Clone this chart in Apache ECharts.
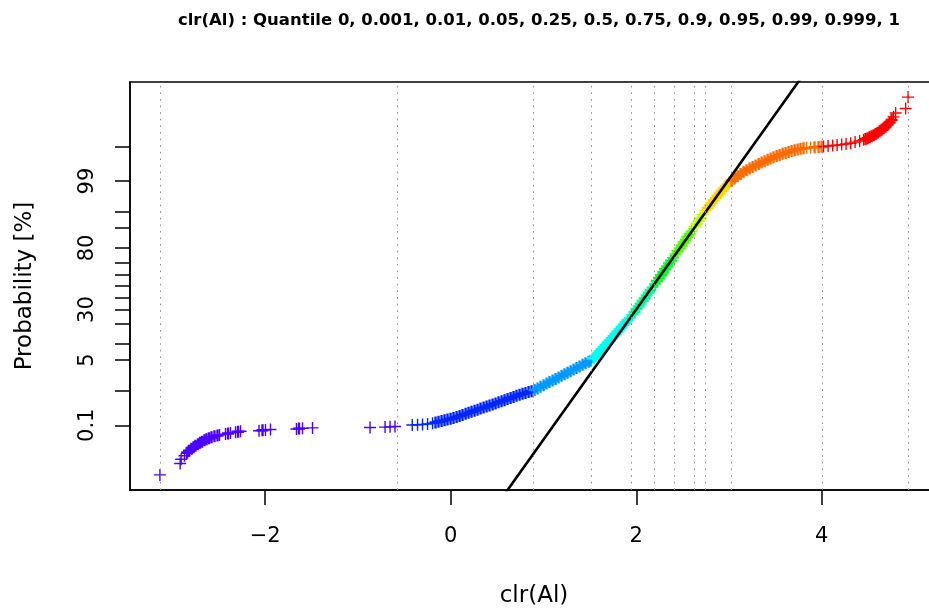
<!DOCTYPE html>
<html><head><meta charset="utf-8">
<script src="https://cdn.jsdelivr.net/npm/echarts@6/dist/echarts.min.js"></script>
<style>html,body{margin:0;padding:0;background:#fff}#chart{width:929px;height:613px}</style>
</head><body><div id="chart"></div>
<script>
// sample values clr(Al), sorted
const clrAl = [
-3.135,-2.917,-2.906,-2.870,-2.843,-2.822,-2.795,-2.773,-2.752,-2.725,-2.703,-2.681,-2.655,-2.633,-2.606,-2.579,-2.547,-2.514,-2.493,-2.428,-2.401,-2.374,-2.320,-2.293,-2.266,-2.067,-2.029,-1.997,-1.943,-1.663,-1.636,-1.598,-1.490,-0.870,-0.708,-0.654,-0.601,
-0.415,-0.358,-0.304,-0.250,
-0.196,-0.164,-0.132,-0.099,-0.067,-0.035,-0.002,0.030,0.063,0.095,0.127,0.160,0.192,0.224,0.257,0.289,0.321,0.354,0.386,0.418,0.451,0.483,0.515,0.548,0.580,0.612,0.645,0.677,0.709,0.742,0.774,0.806,0.839,0.871,
0.904,0.936,0.968,1.001,1.033,1.065,1.098,1.130,1.162,1.195,1.227,1.259,1.292,1.324,1.356,1.389,1.421,1.453,1.486,1.507,
1.540,1.561,1.583,1.604,1.626,1.647,1.669,1.691,1.712,1.734,1.755,1.777,1.798,1.820,1.842,1.863,1.885,1.906,1.928,
1.960,1.982,2.003,2.025,2.046,2.068,2.090,2.111,2.133,2.154,2.176,
2.203,2.224,2.246,2.267,2.289,2.311,2.332,2.354,2.375,2.397,
2.424,2.445,2.467,2.488,2.510,2.532,2.553,2.575,2.596,
2.629,2.650,2.672,2.693,2.715,
2.747,2.769,2.790,2.812,2.834,2.855,2.877,2.898,2.920,2.941,2.963,2.985,3.006,
3.028,3.060,3.092,3.125,3.157,3.189,3.222,3.254,3.286,3.319,3.351,3.383,3.416,3.448,3.480,3.513,3.545,3.577,3.610,3.642,3.674,3.707,3.739,3.771,3.803,3.836,3.879,3.922,3.965,3.998,
4.019,4.068,4.117,4.165,4.214,4.262,4.311,4.359,4.408,4.451,4.472,4.494,4.515,4.537,4.559,4.580,4.602,4.623,4.645,4.666,4.688,4.710,4.731,4.753,4.774,4.796,4.904,4.930
];
// normal scores (probit of the plotting position) of each sorted value
const normalScore = [
-4.191,-3.939,-3.844,-3.766,-3.700,-3.656,-3.611,-3.578,-3.545,-3.512,-3.479,-3.457,-3.423,-3.401,-3.379,-3.357,-3.335,-3.319,-3.304,-3.286,-3.273,-3.260,-3.246,-3.235,-3.224,-3.211,-3.202,-3.193,-3.184,-3.173,-3.164,-3.158,-3.149,-3.140,-3.131,-3.125,-3.118,
-3.085,-3.080,-3.074,-3.063,
-3.043,-3.027,-3.012,-2.996,-2.981,-2.965,-2.948,-2.928,-2.906,-2.883,-2.861,-2.837,-2.815,-2.790,-2.766,-2.744,-2.720,-2.698,-2.673,-2.651,-2.627,-2.605,-2.580,-2.556,-2.534,-2.509,-2.485,-2.461,-2.436,-2.414,-2.392,-2.372,-2.352,-2.335,
-2.306,-2.273,-2.237,-2.202,-2.166,-2.133,-2.098,-2.065,-2.029,-1.994,-1.961,-1.925,-1.890,-1.854,-1.821,-1.786,-1.750,-1.717,-1.682,-1.660,
-1.604,-1.556,-1.507,-1.458,-1.410,-1.361,-1.312,-1.264,-1.215,-1.166,-1.115,-1.064,-1.014,-0.963,-0.912,-0.861,-0.810,-0.759,-0.710,
-0.635,-0.575,-0.513,-0.454,-0.392,-0.332,-0.272,-0.210,-0.148,-0.089,-0.029,
0.046,0.111,0.175,0.239,0.303,0.370,0.434,0.498,0.562,0.626,
0.708,0.770,0.834,0.898,0.963,1.025,1.091,1.153,1.217,
1.312,1.379,1.445,1.511,1.578,
1.677,1.733,1.788,1.843,1.899,1.954,1.998,2.054,2.109,2.153,2.208,2.253,2.304,
2.335,2.386,2.436,2.485,2.529,2.569,2.605,2.640,2.673,2.706,2.737,2.768,2.797,2.826,2.855,2.881,2.906,2.930,2.952,2.974,2.994,3.012,3.027,3.041,3.052,3.063,3.072,3.078,3.083,3.087,
3.094,3.102,3.114,3.125,3.136,3.149,3.167,3.191,3.215,3.242,3.260,3.277,3.297,3.319,3.344,3.370,3.399,3.430,3.463,3.499,3.536,3.578,3.627,3.684,3.751,3.835,3.935,4.189
];
const quantileProbs = [0, 0.001, 0.01, 0.05, 0.25, 0.5, 0.75, 0.9, 0.95, 0.99, 0.999, 1];
const quantileX = [-3.135, -0.581, 0.885, 1.521, 1.946, 2.187, 2.413, 2.618, 2.736, 3.016, 4.009, 4.930];
const bandColors = ['#4D00FF','#0026FF','#0099FF','#00FFF0','#00FF99','#00FF26','#4DFF00','#BFFF00','#FFD600','#FF6B00','#FF0000'];
const probTicksPct = [0.1, 1, 5, 10, 20, 30, 40, 50, 60, 70, 80, 90, 95, 99, 99.9];
const probLabelsPct = [0.1, 5, 30, 80, 99];
const xTicks = [-2, 0, 2, 4];
const titleText = 'clr(Al) : Quantile ' + quantileProbs.join(', ');

function qnorm(p){
  const a=[-3.969683028665376e+01,2.209460984245205e+02,-2.759285104469687e+02,1.383577518672690e+02,-3.066479806614716e+01,2.506628277459239e+00];
  const b=[-5.447609879822406e+01,1.615858368580409e+02,-1.556989798598866e+02,6.680131188771972e+01,-1.328068155288572e+01];
  const c=[-7.784894002430293e-03,-3.223964580411365e-01,-2.400758277161838e+00,-2.549732539343734e+00,4.374664141464968e+00,2.938163982698783e+00];
  const d=[7.784695709041462e-03,3.224671290700398e-01,2.445134137142996e+00,3.754408661907416e+00];
  const pl=0.02425, ph=1-pl; let q, r;
  if (p < pl) { q=Math.sqrt(-2*Math.log(p)); return (((((c[0]*q+c[1])*q+c[2])*q+c[3])*q+c[4])*q+c[5])/((((d[0]*q+d[1])*q+d[2])*q+d[3])*q+1); }
  if (p <= ph) { q=p-0.5; r=q*q; return (((((a[0]*r+a[1])*r+a[2])*r+a[3])*r+a[4])*r+a[5])*q/(((((b[0]*r+b[1])*r+b[2])*r+b[3])*r+b[4])*r+1); }
  q=Math.sqrt(-2*Math.log(1-p)); return -(((((c[0]*q+c[1])*q+c[2])*q+c[3])*q+c[4])*q+c[5])/((((d[0]*q+d[1])*q+d[2])*q+d[3])*q+1);
}

// R-style 4% axis extension
const xLo = Math.min(...clrAl), xHi = Math.max(...clrAl);
const zLo = Math.min(...normalScore), zHi = Math.max(...normalScore);
const xMin = xLo - 0.04*(xHi-xLo), xMax = xHi + 0.04*(xHi-xLo);
const zMin = zLo - 0.04*(zHi-zLo), zMax = zHi + 0.04*(zHi-zLo);

const yTickVals = probTicksPct.map(p => qnorm(p/100));
const yLabelVals = probLabelsPct.map(p => qnorm(p/100));

function bandOf(x){ let k = 0; while (k < bandColors.length - 1 && x >= quantileX[k+1]) k++; return k; }

// reference line through the quartiles
const q1x = quantileX[quantileProbs.indexOf(0.25)], q3x = quantileX[quantileProbs.indexOf(0.75)];
const slope = (qnorm(0.75) - qnorm(0.25)) / (q3x - q1x);
const xMid = (q1x + q3x)/2;
const refLine = [[xMid + (zMin-0.2)/slope, zMin-0.2], [xMid + (zMax+0.2)/slope, zMax+0.2]];

const FONT = 'DejaVu Sans';
const plusThin  = 'path://M5.3,0H6.7V5.3H12V6.7H6.7V12H5.3V6.7H0V5.3H5.3Z';
const plusThick = 'path://M4.8,0H7.2V4.8H12V7.2H7.2V12H4.8V7.2H0V4.8H4.8Z';

function buildSeries(symbolFor){
  const bands = bandColors.map(() => []);
  clrAl.forEach((x, i) => bands[bandOf(x)].push({value: [x, normalScore[i]], symbol: symbolFor(i)}));
  const s = bands.map((pts, k) => ({
    type: 'scatter', data: pts, symbolSize: 12, z: 2,
    itemStyle: {color: bandColors[k], opacity: 1}, silent: true
  }));
  s.push({
    type: 'line', data: [], z: 3, silent: true,
    markLine: {
      silent: true, symbol: ['none','none'], label: {show: false}, animation: false,
      lineStyle: {type: [1.6, 5], color: '#8c8c8c', width: 1},
      emphasis: {disabled: true},
      data: quantileX.map(v => ({xAxis: v}))
    }
  });
  s.push({
    type: 'line', data: refLine, z: 4, symbol: 'none', silent: true, clip: true,
    lineStyle: {color: '#000', width: 2.6}
  });
  return s;
}

const chart = echarts.init(document.getElementById('chart'), null, {renderer: 'canvas'});
chart.setOption({
  animation: false,
  backgroundColor: '#fff',
  title: {
    text: titleText, left: 539, top: 12, textAlign: 'center', padding: 0,
    textStyle: {fontFamily: FONT, fontWeight: 'bold', fontSize: 16.5, color: '#000'}
  },
  grid: {left: 130, top: 82, width: 808, height: 408, show: true, borderColor: '#000', borderWidth: 1.5,
         backgroundColor: 'transparent', containLabel: false, outerBoundsMode: 'none'},
  xAxis: {
    type: 'value', min: xMin, max: xMax,
    axisLine: {show: true, onZero: false, lineStyle: {color: '#000', width: 1.5}},
    splitLine: {show: false},
    axisTick: {show: true, customValues: xTicks, length: 15, lineStyle: {color: '#000', width: 1.5}},
    axisLabel: {show: true, customValues: xTicks, margin: 36, fontFamily: FONT, fontSize: 21, color: '#000',
      formatter: v => (v < 0 ? '\u2212' + Math.abs(v) : String(v))},
    name: 'clr(Al)', nameLocation: 'middle', nameGap: 95,
    nameTextStyle: {fontFamily: FONT, fontSize: 23, color: '#000'}
  },
  yAxis: {
    type: 'value', min: zMin, max: zMax,
    axisLine: {show: true, onZero: false, lineStyle: {color: '#000', width: 1.5}},
    splitLine: {show: false},
    axisTick: {show: true, customValues: yTickVals, length: 15, lineStyle: {color: '#000', width: 1.5}},
    axisLabel: {show: true, customValues: yLabelVals, rotate: 90, margin: 32, fontFamily: FONT, fontSize: 21, color: '#000',
      formatter: v => { const i = yLabelVals.findIndex(t => Math.abs(t - v) < 1e-7); return i >= 0 ? String(probLabelsPct[i]) : ''; }},
    name: 'Probability [%]', nameLocation: 'middle', nameGap: 93, nameRotate: 90,
    nameTextStyle: {fontFamily: FONT, fontSize: 23, color: '#000'}
  },
  series: buildSeries(() => plusThin)
});

// where the sample is dense the overlapping markers merge into a solid band
const px = clrAl.map((x, i) => chart.convertToPixel({gridIndex: 0}, [x, normalScore[i]]));
const gap = (i, j) => (j < 0 || j >= px.length) ? Infinity : Math.hypot(px[j][0]-px[i][0], px[j][1]-px[i][1]);
const dense = px.map((p, i) => gap(i, i-1) < 4 && gap(i, i+1) < 4);
chart.setOption({series: buildSeries(i => dense[i] ? plusThick : plusThin)});
</script></body></html>
